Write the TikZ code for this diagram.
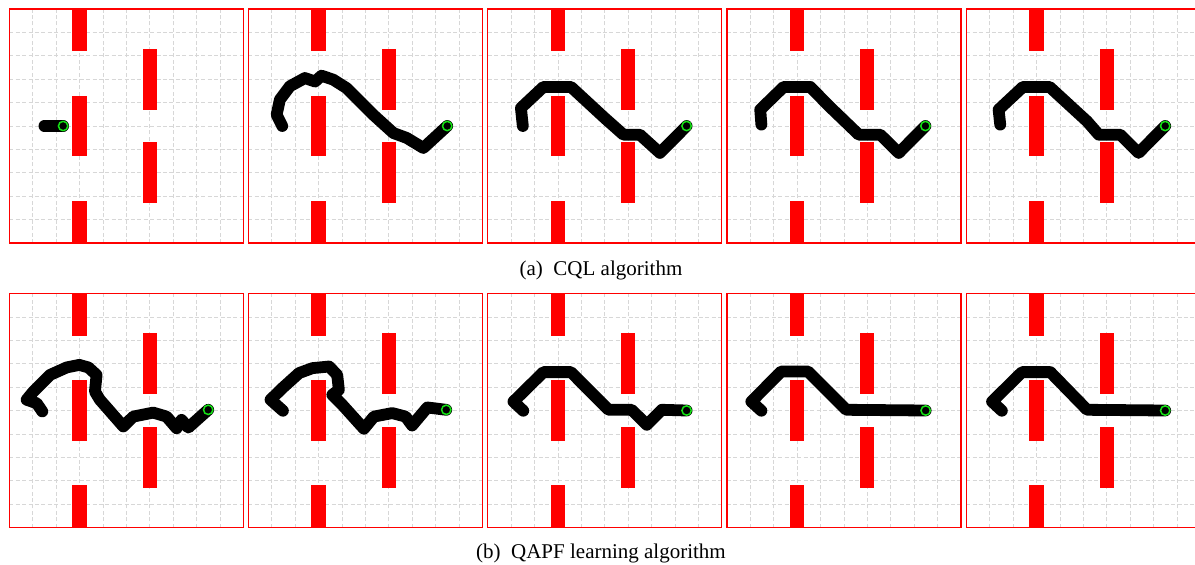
\documentclass[tikz,border=0pt]{standalone}
\usepackage{fontspec}
\setmainfont{Liberation Serif}
\usepackage{tikz}
\usetikzlibrary{positioning}

\definecolor{obsred}{RGB}{255,0,0}
\definecolor{goalgreen}{RGB}{20,225,20}
\definecolor{gridgray}{RGB}{215,215,215}

\tikzset{
  frame/.style={draw=obsred,line width=0.6pt},
  gridline/.style={draw=gridgray,line width=0.35pt,dash pattern=on 2pt off 1.2pt},
  obstacle/.style={fill=obsred},
  trail/.style={draw=black,line width=5.9pt,line cap=round,line join=round},
  robot/.style={draw=goalgreen,line width=0.75pt},
  capt/.style={font=\fontsize{10.5}{12}\selectfont,anchor=base}
}

% one 10x10 world: #1,#2 = lower left corner (px), #3 = robot, #4 = rest of trail
\newcommand{\gridpanel}[4]{%
  \begin{scope}[shift={(#1,#2)},x=11.7pt,y=11.7pt]
    \foreach \k in {1,...,9} {
      \draw[gridline] (\k,0) -- (\k,10);
      \draw[gridline] (0,\k) -- (10,\k);
    }
    % walls
    \fill[obstacle] (2.7,0) rectangle (3.3,1.8);
    \fill[obstacle] (2.7,3.7) rectangle (3.3,6.3);
    \fill[obstacle] (2.7,8.2) rectangle (3.3,10);
    \fill[obstacle] (5.7,1.7) rectangle (6.3,4.3);
    \fill[obstacle] (5.7,5.7) rectangle (6.3,8.3);
    \draw[frame] (0,0) rectangle (10,10);
    % trail and robot
    \draw[trail] #3 #4;
    \draw[robot] #3 circle (0.2);
  \end{scope}}

\begin{document}
\begin{tikzpicture}[x=0.5pt,y=0.5pt]
\useasboundingbox (0,0) rectangle (1195,564);

% (a) top row
\gridpanel{9.3}{321}{(2.3,5)}{-- (1.5,5)}
\gridpanel{248.3}{321}{(8.5,5)}{-- (7.48,4.06) -- (6.77,4.49) -- (6.2,4.7) -- (5.34,5.48) -- (4.2,6.62) -- (3.63,6.98) -- (3.13,7.15) -- (2.85,6.9) -- (2.42,7.05) -- (1.78,6.7) -- (1.35,6.13) -- (1.21,5.48) -- (1.45,5.0)}
\gridpanel{487.7}{321}{(8.5,5)}{-- (7.36,3.85) -- (6.5,4.63) -- (5.8,4.63) -- (5.0,5.34) -- (3.56,6.67) -- (2.38,6.67) -- (1.42,5.77) -- (1.5,5.0)}
\gridpanel{727}{321}{(8.48,5)}{-- (7.34,3.85) -- (6.55,4.63) -- (5.63,4.63) -- (4.34,5.87) -- (3.56,6.67) -- (2.42,6.67) -- (1.42,5.7) -- (1.47,5.06)}
\gridpanel{966.3}{321}{(8.5,5)}{-- (7.36,3.85) -- (6.58,4.63) -- (5.66,4.63) -- (5.16,5.2) -- (3.56,6.67) -- (2.42,6.67) -- (1.38,5.7) -- (1.45,5.06)}
\node[capt] (capA) at (601,289) {(a)\enspace CQL algorithm};

% (b) bottom row
\gridpanel{9.3}{36.5}{(8.5,5.03)}{-- (7.65,4.27) -- (7.36,4.6) -- (7.15,4.24) -- (6.72,4.74) -- (6.15,4.91) -- (5.3,4.74) -- (4.87,4.32) -- (3.87,5.46) -- (3.66,5.81) -- (3.73,6.52) -- (3.38,6.84) -- (2.99,6.95) -- (2.45,6.84) -- (1.74,6.52) -- (1.03,5.81) -- (0.74,5.46) -- (1.17,5.31) -- (1.41,4.96)}
\gridpanel{248.3}{36.5}{(8.46,5.03)}{-- (7.65,5.13) -- (7.0,4.36) -- (6.72,4.74) -- (6.15,4.89) -- (5.37,4.74) -- (4.94,4.22) -- (4.02,5.24) -- (3.59,5.67) -- (3.87,5.88) -- (3.8,6.52) -- (3.45,6.88) -- (2.74,6.81) -- (2.17,6.6) -- (1.45,5.95) -- (0.95,5.46) -- (1.48,4.99)}
\gridpanel{487.7}{36.5}{(8.5,5)}{-- (7.44,5.03) -- (6.8,4.39) -- (6.15,5.03) -- (5.16,5.03) -- (3.56,6.64) -- (2.38,6.64) -- (1.1,5.38) -- (1.52,4.99)}
\gridpanel{727}{36.5}{(8.49,5)}{-- (5.1,5.03) -- (3.46,6.67) -- (2.32,6.67) -- (1.04,5.38) -- (1.47,4.99)}
\gridpanel{966.3}{36.5}{(8.5,5)}{-- (5.16,5.03) -- (3.59,6.64) -- (2.38,6.64) -- (1.1,5.38) -- (1.52,4.99)}
\node[capt] (capB) at (601,6) {(b)\enspace QAPF learning algorithm};
\end{tikzpicture}
\end{document}
